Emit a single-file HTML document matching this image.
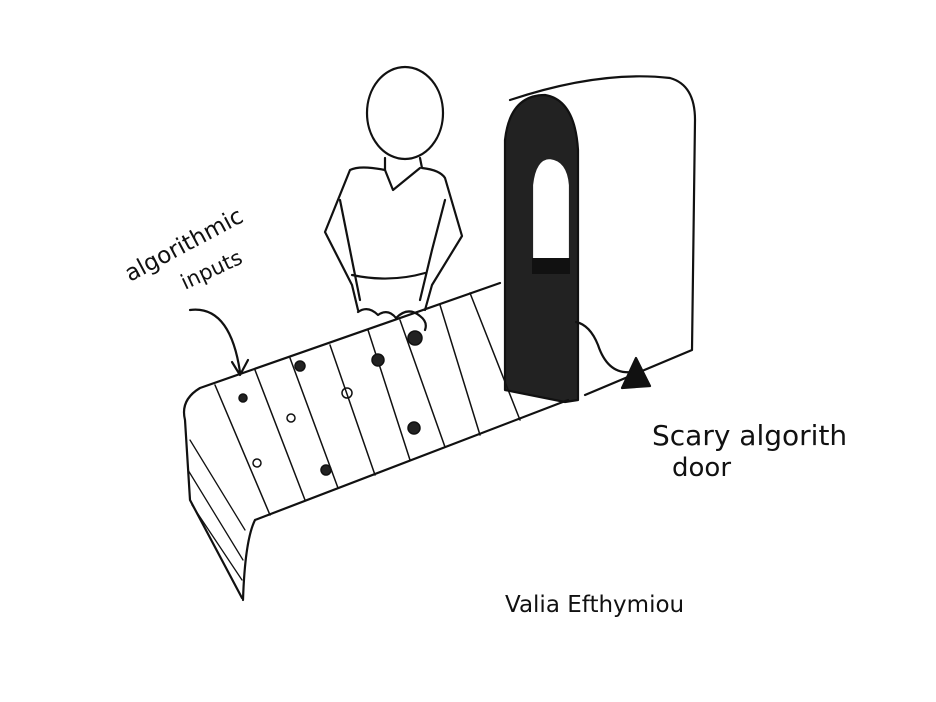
<!DOCTYPE html>
<html><head><meta charset="utf-8"><style>
html,body{margin:0;padding:0;background:#fff;width:936px;height:702px;overflow:hidden}
svg{display:block}
text{font-family:"DejaVu Sans","Liberation Sans",sans-serif;fill:#111}
</style></head><body>
<svg width="936" height="702" viewBox="0 0 936 702">
<g fill="none" stroke="#111" stroke-width="2.2" stroke-linecap="round" stroke-linejoin="round">
 <!-- door frame -->
 <path d="M510 100 Q600 70 670 78 Q695 85 695 120 L692 350 L585 395"/>
 <path fill="#222" d="M505 390 L505 140 Q510 95 545 95 Q575 100 578 150 L578 400 L565 402 Z"/>
 <path fill="#fff" stroke="#222" d="M532 270 L532 185 Q535 158 550 158 Q568 160 570 185 L570 270 Z"/>
 <rect x="532" y="258" width="38" height="16" fill="#111" stroke="none"/>
 <!-- cable and triangle -->
 <path d="M576 322 Q590 325 598 345 Q608 375 632 372"/>
 <path fill="#111" d="M622 388 L636 358 L650 386 Z"/>
 <!-- person -->
 <ellipse cx="405" cy="113" rx="38" ry="46"/>
 <path d="M385 158 L385 170 Q360 165 350 170 L325 232 L352 285 L358 310"/>
 <path d="M420 158 L422 168 Q440 170 445 178 L462 236 L432 285 L425 310"/>
 <path d="M385 170 L393 190 L420 168"/>
 <path d="M340 200 L350 250 L360 300 M445 200 L432 250 L420 300 M352 275 Q390 283 425 273"/>
 <path d="M358 312 Q368 305 378 315 Q388 308 396 318 Q408 306 420 316 Q428 322 425 330"/>
 <!-- table -->
 <path d="M200 388 L500 283 M255 520 L568 400 M200 388 Q180 400 185 420 L190 500 L242 598 M255 520 Q245 540 243 600"/>
 <path stroke-width="1.3" d="M190 440 L245 530 M188 470 L243 560 M192 505 L242 580"/>
 <path stroke-width="1.5" d="M215 385 L270 515 M255 370 L305 500 M290 358 L338 488 M330 345 L375 475 M368 330 L410 460 M400 320 L445 447 M440 305 L480 435 M470 293 L520 420"/>
 <g fill="#222" stroke-width="1.5">
  <circle cx="243" cy="398" r="4"/><circle cx="300" cy="366" r="5"/><circle cx="378" cy="360" r="6"/><circle cx="415" cy="338" r="7"/>
  <circle cx="291" cy="418" r="4" fill="none"/><circle cx="347" cy="393" r="5" fill="none"/><circle cx="414" cy="428" r="6"/>
  <circle cx="257" cy="463" r="4" fill="none"/><circle cx="326" cy="470" r="5"/>
 </g>
 <!-- arrow -->
 <path d="M190 310 Q230 305 240 372 M232 362 L240 375 L248 360"/>
</g>
<text x="130" y="282" font-size="23" transform="rotate(-28 130 282)">algorithmic</text>
<text x="185" y="290" font-size="21" transform="rotate(-25 185 290)">inputs</text>
<text x="652" y="445" font-size="28">Scary algorith</text>
<text x="672" y="476" font-size="26">door</text>
<text x="505" y="612" font-size="23">Valia  Efthymiou</text>
</svg>
</body></html>
